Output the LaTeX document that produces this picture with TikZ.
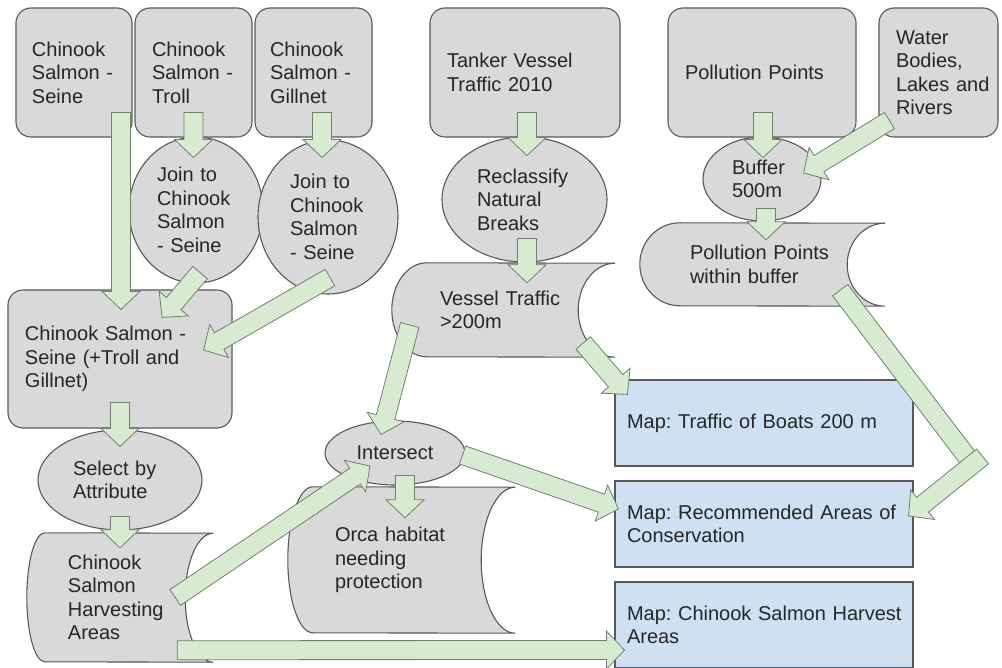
\documentclass[tikz,border=0pt]{standalone}
\usepackage{fontspec}
\setmainfont{Liberation Sans}
\usetikzlibrary{calc,shapes.geometric,backgrounds}
\definecolor{grayf}{HTML}{D9D9D9}
\definecolor{bordc}{HTML}{595959}
\definecolor{bluef}{HTML}{CFE0F3}
\definecolor{greenf}{HTML}{D8EBD0}
\definecolor{greenb}{HTML}{6E806E}
\definecolor{txtc}{HTML}{262626}
\frenchspacing

\newcommand\barrow[2]{%
  \coordinate (baS) at (#1);
  \coordinate (baE) at (#2);
  \pgfpointdiff{\pgfpointanchor{baS}{center}}{\pgfpointanchor{baE}{center}}%
  \pgfgetlastxy\badx\bady
  \pgfmathsetmacro\baAng{atan2(\bady,\badx)}%
  \pgfmathsetmacro\baLen{veclen(\badx,\bady)}%
  \begin{scope}[shift={(baS)},rotate=\baAng]
    \draw[blockarrow] (0pt,-9.5pt) -- ({\baLen pt-18pt},-9.5pt) -- ({\baLen pt-18pt},-19pt)
      -- (\baLen pt,0pt) -- ({\baLen pt-18pt},19pt) -- ({\baLen pt-18pt},9.5pt) -- (0pt,9.5pt) -- cycle;
  \end{scope}}
\newcommand\bbar[2]{%
  \coordinate (baS) at (#1);
  \coordinate (baE) at (#2);
  \pgfpointdiff{\pgfpointanchor{baS}{center}}{\pgfpointanchor{baE}{center}}%
  \pgfgetlastxy\badx\bady
  \pgfmathsetmacro\baAng{atan2(\bady,\badx)}%
  \pgfmathsetmacro\baLen{veclen(\badx,\bady)}%
  \begin{scope}[shift={(baS)},rotate=\baAng]
    \draw[blockarrow] (0pt,-9.5pt) rectangle (\baLen pt,9.5pt);
  \end{scope}}
\newcommand\storeddraw[4]{%
  \draw[storedline] ([xshift=#2pt]#1.north west) arc[start angle=90,end angle=270,x radius=#2pt,y radius=#3pt]
    -- (#1.south east) arc[start angle=270,end angle=90,x radius=#4pt,y radius=#3pt] -- cycle;}

\tikzset{
  every node/.style={font=\fontsize{20}{23.5}\selectfont, text=txtc},
  padl/.style={inner xsep=0pt, execute at begin node={\setlength{\leftskip}{#1}}},
  rbox/.style={draw=bordc, fill=grayf, line width=1.1pt, rounded corners=15pt, inner ysep=0pt, align=left},
  ell/.style={ellipse, draw=bordc, fill=grayf, line width=1.1pt, inner sep=0pt, align=left},
  stor/.style={inner ysep=0pt, align=left},
  storedline/.style={draw=bordc, fill=grayf, line width=1.1pt},
  mapbox/.style={draw=bordc, fill=bluef, line width=1.1pt, inner ysep=0pt, padl=12pt, align=left,
    minimum width=298pt, minimum height=86pt, text width=298pt},
  blockarrow/.style={draw=greenb, fill=greenf, line width=0.8pt, line join=miter},
}

\begin{document}
\begin{tikzpicture}[x=1pt,y=-1pt]
\useasboundingbox (0,0) rectangle (1002,668);

% top row boxes
\node[rbox, minimum width=116pt, minimum height=129pt, text width=116pt, padl=16pt] (seine) at (74,72.5) {Chinook\\Salmon -\\Seine};
\node[rbox, minimum width=117pt, minimum height=129pt, text width=117pt, padl=17pt] (troll) at (193.5,72.5) {Chinook\\Salmon -\\Troll};
\node[rbox, minimum width=117pt, minimum height=129pt, text width=117pt, padl=15pt] (gill) at (313.5,72.5) {Chinook\\Salmon -\\Gillnet};
\node[rbox, minimum width=190pt, minimum height=129pt, text width=190pt, padl=17pt] (tanker) at (525,72.5) {Tanker Vessel\\Traffic 2010};
\node[rbox, minimum width=188pt, minimum height=129pt, text width=188pt, padl=17pt] (poll) at (762,72.5) {Pollution Points};
\node[rbox, minimum width=119pt, minimum height=129pt, text width=119pt, padl=17pt] (water) at (938.5,72.5) {Water\\Bodies,\\Lakes and\\Rivers};

% ellipses
\node[ell, minimum width=134pt, minimum height=146pt, text width=78pt] (join1) at (196,210) {Join to\\Chinook\\Salmon\\- Seine};
\node[ell, minimum width=140pt, minimum height=154pt, text width=76pt] (join2) at (328,217) {Join to\\Chinook\\Salmon\\- Seine};
\node[ell, minimum width=165pt, minimum height=125pt, text width=95pt] (recl) at (524.5,199.5) {Reclassify\\Natural\\Breaks};
\node[ell, minimum width=118pt, minimum height=84pt, text width=60pt] (buffer) at (762,179) {Buffer\\500m};

% combined box
\node[rbox, minimum width=224pt, minimum height=138pt, text width=224pt, padl=17pt] (comb) at (120,359) {Chinook Salmon -\\Seine (+Troll and\\Gillnet)};
\node[ell, minimum width=164pt, minimum height=100pt, text width=94pt] (select) at (120,480) {Select by\\Attribute};
\node[ell, minimum width=140pt, minimum height=64pt, align=center] (inter) at (395,453) {Intersect};

% stored data nodes (text), shapes drawn on background
\node[stor, minimum width=186pt, minimum height=129pt, text width=186pt, padl=41pt] (harv) at (120,597.5) {Chinook\\Salmon\\Harvesting\\Areas};
\node[stor, minimum width=227pt, minimum height=146pt, text width=227pt, padl=47pt] (orca) at (401.5,560) {Orca habitat\\needing\\protection};
\node[stor, minimum width=223pt, minimum height=94pt, text width=223pt, padl=48pt] (vessel) at (503.5,310) {Vessel Traffic\\>200m};
\node[stor, minimum width=245pt, minimum height=83pt, text width=245pt, padl=50pt] (pwb) at (762.5,264.5) {Pollution Points\\within buffer};

% map boxes
\node[mapbox] (map1) at (764,423) {Map: Traffic of Boats 200 m};
\node[mapbox] (map2) at (764,524) {Map: Recommended Areas of\\Conservation};
\node[mapbox] (map3) at (764,625) {Map: Chinook Salmon Harvest\\Areas};

\begin{scope}[on background layer]
  \fill[white] (0,0) rectangle (1002,668);
  \storeddraw{harv}{18}{64.5}{28}
  \storeddraw{orca}{25}{73}{34}
  \storeddraw{vessel}{35}{47}{37}
  \storeddraw{pwb}{40}{41.5}{38}
\end{scope}

% block arrows
\barrow{$(seine.south)+(47,-25)$}{$(comb.north)+(1,20)$}
\barrow{$(troll.south)+(0,-25)$}{$(troll.south)+(0,20)$}
\barrow{$(gill.south)+(8.5,-25)$}{$(gill.south)+(8.5,20)$}
\barrow{$(join1.south)+(4,-11)$}{$(comb.north)+(42,28)$}
\barrow{$(join2.south)+(2,-17)$}{$(comb.east)+(-29,-9)$}
\barrow{$(comb.south)+(0,-26)$}{$(select.north)+(0,17)$}
\barrow{$(select.south)+(0,-14)$}{$(harv.north)+(0,15)$}
\barrow{$(harv.east)+(-38,0)$}{$(inter.center)+(-25,13)$}
\barrow{$(harv.south east)+(-36,-12)$}{$(map3.west)+(10,25)$}
\barrow{$(inter.south)+(10,-10)$}{$(orca.north)+(3.5,31)$}
\barrow{$(vessel.west)+(18,15)$}{$(inter.north)+(-14,14)$}
\barrow{$(inter.east)+(-3,2)$}{$(map2.west)+(4,-15)$}
\barrow{$(vessel.east)+(-32,33)$}{$(map1.north west)+(13,15)$}
\coordinate (elbow) at ($(map2.north east)+(57,-19)$);
\bbar{$(pwb.south east)+(-45,-16)$}{elbow}
\barrow{$(elbow)+(12,-5)$}{$(map2.east)+(-5,-8)$}
\barrow{$(poll.south)+(1,-25)$}{$(poll.south)+(1,20)$}
\barrow{$(water.south west)+(11,-17)$}{$(buffer.east)+(-18,-6)$}
\barrow{$(buffer.south)+(4,-13)$}{$(pwb.north)+(3.5,17)$}
\barrow{$(tanker.south)+(2,-25)$}{$(tanker.south)+(2,18)$}
\barrow{$(recl.south)+(2.5,-24)$}{$(vessel.north)+(23.5,20)$}
\end{tikzpicture}
\end{document}
